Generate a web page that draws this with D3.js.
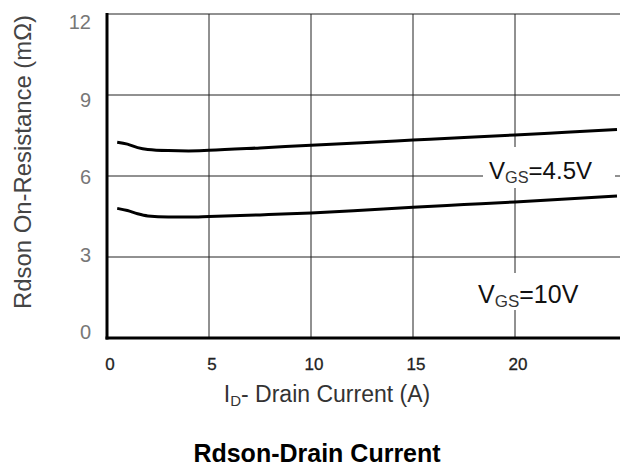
<!DOCTYPE html>
<html>
<head>
<meta charset="utf-8">
<script src="https://cdn.jsdelivr.net/npm/d3@7"></script>
<style>
  body { margin: 0; background: #fff; }
  text { font-family: "Liberation Sans", Arial, sans-serif; }
</style>
</head>
<body>
<svg id="chart" width="620" height="468"></svg>
<script>
// drain current (A) and on-resistance (mOhm)
let drainCurrent = [0.5, 1, 1.5, 2, 3, 4, 5, 7.5, 10, 12.5, 15, 17.5, 20, 22.5, 25];
let rdsVgs45 = [7.25, 7.18, 7.05, 6.98, 6.94, 6.93, 6.95, 7.04, 7.14, 7.23, 7.33, 7.43, 7.52, 7.62, 7.72];
let rdsVgs10 = [4.8, 4.72, 4.6, 4.52, 4.48, 4.48, 4.5, 4.56, 4.63, 4.73, 4.84, 4.94, 5.04, 5.15, 5.26];

let xTicks = [0, 5, 10, 15, 20];
let yTicks = [0, 3, 6, 9, 12];

let svg = d3.select('#chart');
let W = 620;

let x = d3.scaleLinear().domain([0, 25]).range([107, 617]);
let y = d3.scaleLinear().domain([0, 12]).range([338, 14]);
// tick labels in the scan sit slightly off the grid lines
let yLabel = d3.scaleLinear().domain([0, 12]).range([339, 29]);

// grid
svg.selectAll('.vgrid')
    .data(xTicks.slice(1))
    .enter()
    .append('line')
    .attr('x1', d => x(d)).attr('x2', d => x(d))
    .attr('y1', y(12)).attr('y2', y(0))
    .attr('stroke', '#222').attr('stroke-width', 1);

svg.selectAll('.hgrid')
    .data(yTicks.slice(1))
    .enter()
    .append('line')
    .attr('x1', x(0)).attr('x2', W)
    .attr('y1', d => y(d)).attr('y2', d => y(d))
    .attr('stroke', '#222').attr('stroke-width', 1);

// curves
let line = d3.line()
    .x(d => x(d[0]))
    .y(d => y(d[1]))
    .curve(d3.curveMonotoneX);

[rdsVgs45, rdsVgs10].forEach(series => {
    svg.append('path')
        .attr('d', line(drainCurrent.map((c, i) => [c, series[i]])))
        .attr('fill', 'none')
        .attr('stroke', '#000')
        .attr('stroke-width', 3);
});

// axes (thick left and bottom)
svg.append('line')
    .attr('x1', x(0)).attr('x2', x(0))
    .attr('y1', y(12) - 1).attr('y2', y(0) + 1.5)
    .attr('stroke', '#000').attr('stroke-width', 3);
svg.append('line')
    .attr('x1', x(0) - 1.5).attr('x2', W)
    .attr('y1', y(0)).attr('y2', y(0))
    .attr('stroke', '#000').attr('stroke-width', 3);

// curve labels with white boxes over the grid
let labels = [
    { text: 'GS', pre: 'V', post: '=4.5V', bx: 483, by: 147, bw: 132, bh: 41, tx: 489, ty: 179, size: 24 },
    { text: 'GS', pre: 'V', post: '=10V', bx: 470, by: 273, bw: 112, bh: 37, tx: 478, ty: 303, size: 25 }
];
labels.forEach(l => {
    svg.append('rect')
        .attr('x', l.bx).attr('y', l.by)
        .attr('width', l.bw).attr('height', l.bh)
        .attr('fill', '#fff');
    let t = svg.append('text')
        .attr('x', l.tx).attr('y', l.ty)
        .attr('font-size', l.size)
        .attr('fill', '#111');
    t.append('tspan').text(l.pre);
    t.append('tspan').attr('font-size', l.size * 0.68).attr('dy', 4).attr('fill', '#333').text(l.text);
    t.append('tspan').attr('dy', -4).text(l.post);
});

// tick labels
svg.selectAll('.ylab')
    .data(yTicks)
    .enter()
    .append('text')
    .attr('x', 91)
    .attr('y', d => yLabel(d))
    .attr('text-anchor', 'end')
    .attr('font-size', 20)
    .attr('fill', '#777')
    .text(d => d);

svg.selectAll('.xlab')
    .data(xTicks)
    .enter()
    .append('text')
    .attr('x', d => x(d) + 3)
    .attr('y', 370)
    .attr('text-anchor', 'middle')
    .attr('font-size', 17)
    .attr('fill', '#222')
    .attr('stroke', '#222')
    .attr('stroke-width', 0.3)
    .text(d => d);

// axis titles (the scan's y title is tall and condensed)
svg.append('text')
    .attr('transform', 'translate(31,162) rotate(-90)')
    .attr('text-anchor', 'middle')
    .attr('font-size', 24)
    .attr('textLength', 294)
    .attr('lengthAdjust', 'spacingAndGlyphs')
    .attr('fill', '#444')
    .text('Rdson On-Resistance (mΩ)');

let xt = svg.append('text')
    .attr('x', 327).attr('y', 402)
    .attr('text-anchor', 'middle')
    .attr('font-size', 23)
    .attr('fill', '#333');
xt.append('tspan').text('I');
xt.append('tspan').attr('font-size', 15).attr('dy', 4).text('D');
xt.append('tspan').attr('dy', -4).text('- Drain Current (A)');

svg.append('text')
    .attr('x', 317).attr('y', 462)
    .attr('text-anchor', 'middle')
    .attr('font-size', 25)
    .attr('font-weight', 'bold')
    .attr('fill', '#000')
    .text('Rdson-Drain Current');
</script>
</body>
</html>
